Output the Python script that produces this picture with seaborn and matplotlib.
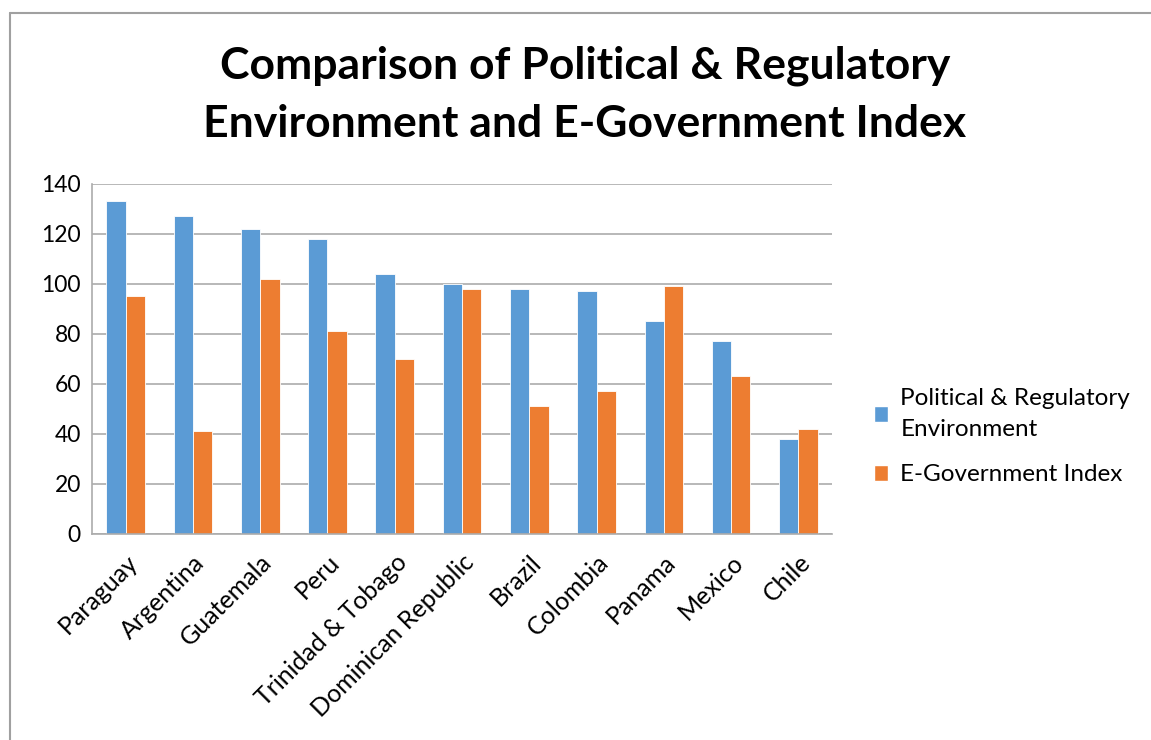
import numpy as np
import pandas as pd
import seaborn as sns
import matplotlib
matplotlib.use("Agg")
import matplotlib.pyplot as plt
from matplotlib.lines import Line2D
from matplotlib.patches import Patch

# data
countries = ["Paraguay", "Argentina", "Guatemala", "Peru", "Trinidad & Tobago",
             "Dominican Republic", "Brazil", "Colombia", "Panama", "Mexico", "Chile"]
political = [133, 127, 122, 118, 104, 100, 98, 97, 85, 77, 38]
egov = [95, 41, 102, 81, 70, 98, 51, 57, 99, 63, 42]
series_names = ["Political & Regulatory Environment", "E-Government Index"]
colors = ["#5B9BD5", "#ED7D31"]

df = pd.DataFrame({
    "country": countries * 2,
    "value": political + egov,
    "series": [series_names[0]] * len(countries) + [series_names[1]] * len(countries),
})

sns.set_theme(style="white", rc={"text.color": "black", "xtick.color": "black",
                                 "ytick.color": "black"})
plt.rcParams['font.family'] = ['Lato', 'DejaVu Sans']

fig = plt.figure(figsize=(11.51, 7.40), dpi=100)
ax = fig.add_axes([0.0799, 0.2784, 0.643, 0.473])

sns.barplot(data=df, x="country", y="value", hue="series", palette=colors,
            saturation=1, width=0.575, edgecolor="white", linewidth=0.6,
            ax=ax, legend=False)

ax.set_ylim(0, 140)
ax.set_yticks(np.arange(0, 141, 20))
ax.yaxis.grid(True, color="#ababab", linewidth=1.2)
ax.set_axisbelow(True)
ax.set_xlabel("")
ax.set_ylabel("")
for s in ["top", "right"]:
    ax.spines[s].set_visible(False)
for s in ["left", "bottom"]:
    ax.spines[s].set_color("#ababab")
    ax.spines[s].set_linewidth(1.2)
ax.tick_params(axis="y", length=0, labelsize=16.5, pad=8)
ax.set_xticks(range(len(countries)))
ax.set_xticklabels(countries, rotation=45, ha="right", rotation_mode="anchor")
ax.tick_params(axis="x", length=0, labelsize=18, pad=12)

fig.text(0.508, 0.872, "Comparison of Political & Regulatory\nEnvironment and E-Government Index",
         ha="center", va="center", fontsize=32, fontweight="bold", linespacing=1.55)

handles = [Patch(facecolor=colors[0]), Patch(facecolor=colors[1])]
labels = ["Political & Regulatory\nEnvironment", "E-Government Index"]
fig.legend(handles, labels, loc="center left", bbox_to_anchor=(0.74, 0.41),
           frameon=False, handlelength=0.6, handleheight=0.6,
           handletextpad=0.5, labelspacing=1.0, prop={"size": 17.5})
for t in fig.legends[0].get_texts():
    t.set_linespacing(1.6)

# outer chart border
fig.add_artist(Line2D([10 / 1151, 10 / 1151], [0, 1 - 13 / 740], color="#a0a0a0", linewidth=1.5))
fig.add_artist(Line2D([10 / 1151, 1], [1 - 13 / 740, 1 - 13 / 740], color="#a0a0a0", linewidth=1.5))

fig.savefig("out.png", dpi=100)
